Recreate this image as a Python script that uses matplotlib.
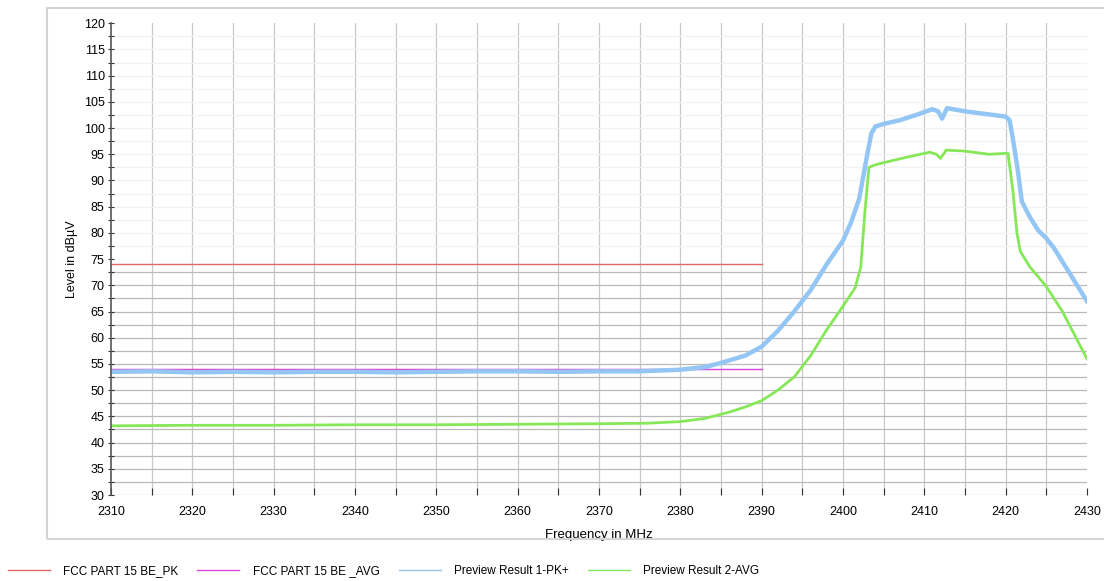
import matplotlib
matplotlib.use("Agg")
import matplotlib.pyplot as plt
import numpy as np
from matplotlib.patches import Rectangle

plt.rcParams['font.family'] = ['Liberation Sans', 'DejaVu Sans']

# -----------------------------------------
# Grenzwerte (FCC Part 15)
limit_freq = [2310, 2390]
limit_pk = [74, 74]
limit_avg = [54, 54]

# Messkurve 1 - Peak
pk_freq = [2310, 2315, 2320, 2325, 2330, 2335, 2340, 2345, 2350, 2355, 2360, 2365,
           2370, 2375, 2380, 2383, 2385, 2388, 2390, 2392, 2394, 2396, 2398, 2400,
           2401, 2402, 2403, 2403.5, 2404, 2405, 2407, 2409, 2411, 2411.7, 2412.2,
           2412.8, 2415, 2418, 2420, 2420.5, 2421, 2421.5, 2422, 2423, 2424, 2425,
           2426, 2427, 2428, 2429, 2430]
pk_level = [53.5, 53.6, 53.4, 53.5, 53.4, 53.5, 53.5, 53.4, 53.5, 53.6, 53.6, 53.5,
            53.6, 53.6, 53.9, 54.4, 55.2, 56.6, 58.3, 61.3, 65.0, 69.0, 74.0, 78.5,
            82.0, 86.5, 95.0, 99.0, 100.3, 100.8, 101.5, 102.5, 103.6, 103.2, 101.8,
            103.8, 103.2, 102.6, 102.2, 101.5, 97.0, 92.0, 86.0, 83.0, 80.5, 79.0,
            77.0, 74.5, 72.0, 69.5, 67.0]

# Messkurve 2 - Average
avg_freq = [2310, 2320, 2330, 2340, 2350, 2360, 2370, 2376, 2380, 2383, 2386, 2388,
            2390, 2392, 2394, 2396, 2398, 2400, 2401.5, 2402.2, 2402.7, 2403.2, 2404,
            2405, 2408, 2410.7, 2411.5, 2412, 2412.7, 2415, 2418, 2420.3, 2420.9,
            2421.4, 2421.8, 2423, 2425, 2427, 2429, 2430]
avg_level = [43.2, 43.3, 43.3, 43.4, 43.4, 43.5, 43.6, 43.7, 44.0, 44.6, 45.8, 46.8,
             48.0, 50.0, 52.5, 56.5, 61.5, 66.0, 69.5, 73.5, 84.0, 92.5, 93.0, 93.4,
             94.5, 95.4, 95.0, 94.2, 95.8, 95.6, 95.0, 95.2, 88.0, 80.0, 76.5, 73.5,
             69.8, 65.0, 59.0, 56.0]

x_ticks = list(range(2310, 2431, 10))
y_ticks = list(range(30, 121, 5))

# -----------------------------------------
fig = plt.figure(figsize=(11.04, 5.81), dpi=100)
ax = fig.add_axes([0.1005, 0.148, 0.884, 0.812])

# äußerer grauer Rahmen
fig.patches.append(Rectangle((0.043, 0.072), 1.0, 0.915, transform=fig.transFigure,
                             fill=False, edgecolor='#d4d4d4', linewidth=1.5))

# Gitterlinien
for xv in np.arange(2315, 2430, 5):
    ax.axvline(xv, color='#c8c8c8', linewidth=0.9, zorder=0)
for yv in np.arange(30, 75, 2.5):
    ax.axhline(yv, color='#bababa', linewidth=0.9, zorder=0)
for yv in np.arange(77.5, 120, 2.5):
    ax.axhline(yv, color='#f2f2f2', linewidth=0.9, zorder=0)

# Kurven
l1, = ax.plot(limit_freq, limit_pk, color='#e06868', linewidth=1.0, label='FCC PART 15 BE_PK')
l2, = ax.plot(limit_freq, limit_avg, color='#d84cd8', linewidth=1.0, label='FCC PART 15 BE _AVG')
l3, = ax.plot(pk_freq, pk_level, color='#93c6f4', linewidth=3.2, solid_joinstyle='round',
              label='Preview Result 1-PK+')
l4, = ax.plot(avg_freq, avg_level, color='#86e858', linewidth=2.0, solid_joinstyle='round',
              label='Preview Result 2-AVG')
ax.plot(limit_freq, limit_avg, color='#d84cd8', linewidth=0.8, zorder=1)

ax.set_xlim(2310, 2430)
ax.set_ylim(30, 120)

ax.set_xticks(x_ticks)
ax.set_xticks(np.arange(2315, 2430, 10), minor=True)
ax.set_yticks(y_ticks)
ax.set_yticks(np.arange(32.5, 120, 5), minor=True)
ax.tick_params(axis='x', which='both', direction='in', length=5, width=0.8,
               color='#333333', labelsize=9, pad=8)
ax.tick_params(axis='y', which='both', direction='inout', length=5, width=0.8,
               color='#333333', labelsize=9, pad=2)

for s in ['top', 'right', 'bottom']:
    ax.spines[s].set_visible(False)
ax.spines['left'].set_color('#555555')
ax.spines['left'].set_linewidth(1.2)

ax.set_xlabel("Frequency in MHz", fontsize=9.5, labelpad=8)
ax.set_ylabel("Level in dBµV", fontsize=9, labelpad=4)

fig.legend(handles=[l1, l2, l3, l4], loc='lower left', bbox_to_anchor=(0.007, 0.0075),
           ncol=4, frameon=False, fontsize=8.5, handlelength=3.55, handletextpad=1.15,
           columnspacing=1.6, borderpad=0, borderaxespad=0)
for h in fig.legends[0].get_lines():
    h.set_linewidth(1.0)

fig.savefig("out.png", dpi=100)
plt.close(fig)
